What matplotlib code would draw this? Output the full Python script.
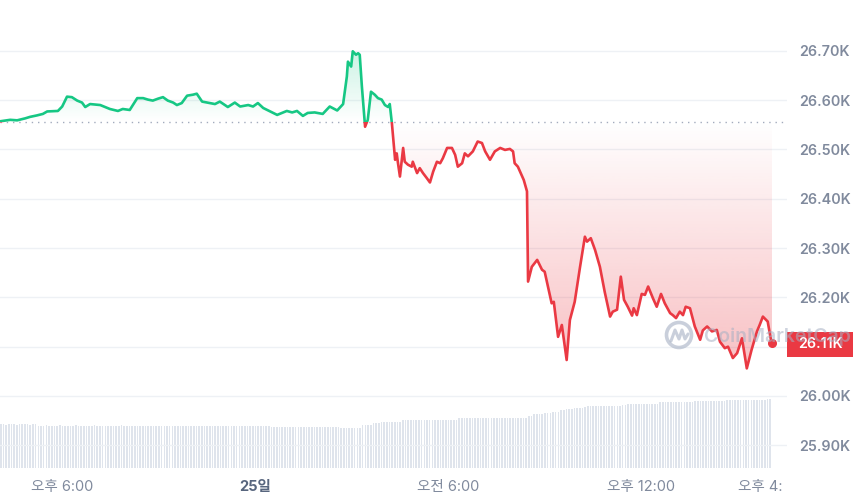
import numpy as np
import matplotlib
matplotlib.use("Agg")
import matplotlib.pyplot as plt
from matplotlib.patches import Rectangle, Circle
from matplotlib.path import Path
from matplotlib.transforms import Bbox, TransformedBbox, blended_transform_factory

plt.rcParams['font.family'] = ['Inter', 'Noto Sans CJK KR', 'DejaVu Sans']

# ---------------- data ----------------
start_clock_min = 16 * 60 + 4          # series starts at 16:04 (day 24)
minutes = [
    0, 19, 32, 47, 56, 69, 80, 88, 108, 116,
    125, 134, 144, 153, 159, 168, 187, 205, 220, 229,
    242, 256, 267, 276, 285, 295, 304, 313, 323, 330,
    339, 349, 360, 367, 377, 392, 401, 410, 425, 438,
    448, 463, 472, 481, 491, 504, 517, 535, 545, 554,
    565, 574, 587, 602, 615, 629, 640, 647, 649, 655,
    658, 664, 668, 671, 675, 681, 686, 692, 699, 705,
    712, 718, 724, 727, 731, 737, 740, 742, 746, 752,
    755, 761, 768, 770, 778, 783, 789, 796, 802, 808,
    815, 821, 826, 834, 843, 849, 854, 862, 867, 873,
    882, 891, 899, 905, 914, 923, 933, 942, 951, 957,
    960, 966, 974, 977, 983, 985, 992, 1002, 1011, 1016,
    1022, 1029, 1033, 1041, 1048, 1057, 1063, 1072, 1082, 1091,
    1095, 1102, 1110, 1119, 1128, 1138, 1143, 1151, 1158, 1164,
    1171, 1179, 1182, 1188, 1197, 1203, 1209, 1218, 1225, 1233,
    1240, 1250, 1255, 1261, 1268, 1274, 1279, 1287, 1296, 1306,
    1311, 1319, 1328, 1337, 1343, 1352, 1358, 1367, 1375, 1384,
    1393, 1402, 1412, 1417, 1423, 1432, 1438, 1440,
]
price = [
    26557, 26560, 26559, 26563, 26566, 26569, 26572, 26577, 26578, 26587,
    26607, 26606, 26599, 26595, 26586, 26592, 26590, 26582, 26578, 26582,
    26580, 26604, 26604, 26601, 26599, 26603, 26606, 26599, 26595, 26590,
    26594, 26609, 26611, 26613, 26597, 26594, 26592, 26597, 26586, 26595,
    26587, 26590, 26587, 26594, 26584, 26577, 26570, 26578, 26575, 26578,
    26568, 26574, 26575, 26572, 26587, 26579, 26592, 26648, 26678, 26668,
    26699, 26692, 26695, 26692, 26628, 26546, 26560, 26617, 26611, 26604,
    26601, 26590, 26586, 26592, 26553, 26479, 26492, 26475, 26445, 26503,
    26475, 26469, 26465, 26475, 26452, 26462, 26452, 26442, 26433, 26455,
    26475, 26472, 26482, 26503, 26503, 26489, 26465, 26472, 26492, 26486,
    26496, 26516, 26513, 26496, 26479, 26496, 26503, 26499, 26501, 26496,
    26472, 26465, 26445, 26438, 26415, 26232, 26262, 26276, 26256, 26252,
    26222, 26188, 26191, 26120, 26144, 26073, 26154, 26191, 26262, 26323,
    26313, 26320, 26296, 26262, 26211, 26161, 26171, 26175, 26242, 26195,
    26181, 26163, 26178, 26164, 26207, 26205, 26222, 26198, 26181, 26207,
    26188, 26168, 26164, 26158, 26171, 26164, 26181, 26178, 26141, 26114,
    26133, 26141, 26131, 26134, 26110, 26097, 26100, 26077, 26087, 26117,
    26056, 26094, 26131, 26144, 26161, 26151, 26114, 26107,
]
baseline_price = 26556
last_price_label = "26.11K"

# 5-minute volume bars (billion USD, rolling)
volume_step_min = 5
volume_b = [
    10.9, 10.9, 10.8, 10.9, 10.9, 10.9, 10.8, 10.9, 10.9, 10.9, 10.9, 10.8, 10.9, 10.9, 10.6, 10.6,
    10.6, 10.7, 10.6, 10.6, 10.6, 10.6, 10.7, 10.6, 10.6, 10.6, 10.6, 10.6, 10.7, 10.6, 10.6, 10.6,
    10.6, 10.6, 10.6, 10.7, 10.6, 10.6, 10.6, 10.6, 10.6, 10.6, 10.6, 10.6, 10.6, 10.7, 10.6, 10.6,
    10.6, 10.6, 10.6, 10.6, 10.5, 10.6, 10.6, 10.6, 10.6, 10.6, 10.6, 10.6, 10.6, 10.5, 10.6, 10.6,
    10.6, 10.6, 10.6, 10.6, 10.6, 10.6, 10.6, 10.5, 10.6, 10.6, 10.6, 10.6, 10.6, 10.6, 10.6, 10.6,
    10.6, 10.6, 10.6, 10.5, 10.6, 10.6, 10.6, 10.6, 10.6, 10.6, 10.5, 10.6, 10.6, 10.6, 10.6, 10.6,
    10.6, 10.6, 10.5, 10.5, 10.5, 10.3, 10.3, 10.3, 10.3, 10.3, 10.3, 10.3, 10.3, 10.2, 10.3, 10.3,
    10.3, 10.3, 10.2, 10.3, 10.3, 10.3, 10.2, 10.2, 10.2, 10.2, 10.2, 10.2, 10.2, 10.2, 10.2, 10.0,
    10.0, 10.0, 10.0, 10.0, 10.0, 10.0, 10.0, 10.7, 10.7, 10.7, 10.8, 11.3, 11.3, 11.3, 11.4, 11.4,
    11.4, 11.4, 11.4, 11.4, 11.4, 11.5, 12.0, 12.0, 12.0, 12.0, 12.0, 12.0, 12.0, 12.0, 12.0, 12.1,
    12.0, 12.0, 12.0, 12.0, 12.0, 12.0, 12.0, 12.1, 12.0, 12.0, 12.0, 12.5, 12.5, 12.5, 12.5, 12.5,
    12.5, 12.5, 12.4, 12.5, 12.5, 12.5, 12.5, 12.5, 12.4, 12.4, 12.4, 12.4, 12.4, 12.4, 12.4, 12.4,
    12.4, 12.4, 12.4, 12.4, 12.4, 13.0, 13.1, 13.4, 13.5, 13.5, 13.6, 13.7, 13.8, 13.8, 13.9, 14.0,
    14.1, 14.4, 14.6, 14.7, 14.8, 14.8, 14.9, 14.9, 15.0, 15.1, 15.2, 15.4, 15.4, 15.5, 15.5, 15.5,
    15.5, 15.5, 15.5, 15.6, 15.6, 15.6, 15.6, 15.6, 15.7, 15.7, 15.9, 15.9, 16.0, 16.0, 16.0, 16.0,
    16.0, 16.0, 16.1, 16.1, 16.1, 16.1, 16.4, 16.4, 16.5, 16.5, 16.5, 16.5, 16.5, 16.5, 16.5, 16.6,
    16.6, 16.6, 16.6, 16.7, 16.7, 16.7, 16.7, 16.7, 16.8, 16.8, 16.8, 16.8, 16.8, 16.8, 16.8, 16.9,
    16.9, 16.9, 16.9, 16.9, 16.9, 16.9, 16.9, 17.1, 17.1, 17.1, 17.1, 17.1, 17.1, 17.1, 17.2, 17.2,
]

price_ticks = [25900, 26000, 26100, 26200, 26300, 26400, 26500, 26600, 26700]
# the 26.10K label sits under the live-price tag, so it is not shown
price_tick_labels = ['25.90K', '26.00K', '', '26.20K', '26.30K',
                     '26.40K', '26.50K', '26.60K', '26.70K']
time_tick_hours = [18, 24, 30, 36, 40]
time_tick_labels = ['오후 6:00', '25일', '오전 6:00', '오후 12:00', '오후 4:00']

# ---------------- style ----------------
GREEN = '#16c784'
RED = '#ea3943'
GRID = '#eef1f5'
LABEL = '#808a9d'

W, H = 860, 503
fig = plt.figure(figsize=(W / 100, H / 100), dpi=100)
fig.patch.set_facecolor('white')

ax_right_px, ax_bottom_px = 787, 468
ax = fig.add_axes([0, 1 - ax_bottom_px / H, ax_right_px / W, ax_bottom_px / H])
axv = ax.twinx()
axv.set_zorder(1)
ax.set_zorder(2)
ax.patch.set_visible(False)

t = np.array(minutes, dtype=float)
p = np.array(price, dtype=float)
base = baseline_price

# volume bars
tv = np.arange(len(volume_b)) * volume_step_min
axv.bar(tv, volume_b, width=volume_step_min * 0.6, color='#dfe4ec', linewidth=0, align='edge')
axv.set_ylim(0, 117)
axv.set_yticks([])
for s in axv.spines.values():
    s.set_visible(False)

# gradient fills
def grad_fill(where_mask, y0, y1, color, a_top, a_bot):
    coll = ax.fill_between(t, p, base, where=where_mask, interpolate=True,
                           facecolor='none', edgecolor='none')
    paths = coll.get_paths()
    if not paths:
        return
    cpath = Path.make_compound_path(*paths)
    rgb = matplotlib.colors.to_rgb(color)
    n = 256
    img = np.zeros((n, 1, 4))
    img[..., 0], img[..., 1], img[..., 2] = rgb
    img[:, 0, 3] = np.linspace(a_top, a_bot, n)
    im = ax.imshow(img, extent=[t.min(), t.max(), y0, y1], origin='upper',
                   aspect='auto', interpolation='bilinear', zorder=1)
    im.set_clip_path(cpath, ax.transData)

grad_fill(p >= base, base, p.max(), GREEN, 0.22, 0.0)
grad_fill(p <= base, p.min(), base, RED, 0.0, 0.32)

# baseline
ax.axhline(base, color='#a3abbd', lw=1.0, ls=(0, (1, 3.5)), zorder=2)

# line split by baseline
clip_up = Rectangle((-1e5, base), 2e5, 1e5, transform=ax.transData)
clip_dn = Rectangle((-1e5, base - 1e5), 2e5, 1e5, transform=ax.transData)
lg, = ax.plot(t, p, color=GREEN, lw=1.9, solid_joinstyle='round', zorder=3)
lg.set_clip_path(clip_up)
lr, = ax.plot(t, p, color=RED, lw=1.9, solid_joinstyle='round', zorder=3)
lr.set_clip_path(clip_dn)
ax.plot(t[-1], p[-1], 'o', color=RED, ms=5.5, zorder=4)

# axes
ax.set_xlim(0, 1468)
ax.set_ylim(25854, 26803)
axv.set_xlim(0, 1468)
ax.yaxis.tick_right()
ax.set_yticks(price_ticks)
ax.set_yticklabels(price_tick_labels)
ax.tick_params(axis='y', length=0, pad=9, labelsize=10.3, labelcolor=LABEL)
for lab in ax.get_yticklabels():
    lab.set_fontweight('semibold')
ax.set_xticks([])
ax.grid(axis='y', color=GRID, lw=1, zorder=0)
ax.set_axisbelow(True)
for s in ax.spines.values():
    s.set_visible(False)

# time labels (clipped at the chart edge)
clipbox = TransformedBbox(Bbox([[0, 0], [783 / W, 1]]), fig.transFigure)
trans = blended_transform_factory(ax.transData, fig.transFigure)
for hh, lab in zip(time_tick_hours, time_tick_labels):
    xpos = hh * 60 - start_clock_min
    bold = lab.endswith('일')
    txt = fig.text(xpos, 1 - 487 / H, lab, transform=trans, ha='center', va='center',
                   fontsize=10.5, color='#58667e' if bold else LABEL,
                   fontweight='bold' if bold else 'normal')
    txt.set_clip_on(True)
    txt.set_clip_box(clipbox)

# overlay: price tag + watermark
ov = fig.add_axes([0, 0, 1, 1], zorder=10)
ov.set_xlim(0, W)
ov.set_ylim(H, 0)
ov.axis('off')
ov.patch.set_visible(False)
ov.add_patch(Rectangle((787, 332), 66, 25, color=RED, lw=0))
ov.text(820, 344.5, last_price_label, color='white', ha='center', va='center',
        fontsize=10.3, fontweight='semibold')

wm = '#a6b0c3'
ov.add_patch(Circle((679, 335), 12.5, fill=False, ec=wm, lw=2.6, alpha=0.6))
ov.plot([671, 675, 679, 682, 685, 688], [341, 330, 339, 330, 339, 334],
        color=wm, lw=2.2, alpha=0.6, solid_joinstyle='round', solid_capstyle='round')
ov.text(704, 337, 'CoinMarketCap', color=wm, alpha=0.55, fontsize=14,
        fontweight='semibold', ha='left', va='center')

fig.savefig('out.png', dpi=100, facecolor='white')
